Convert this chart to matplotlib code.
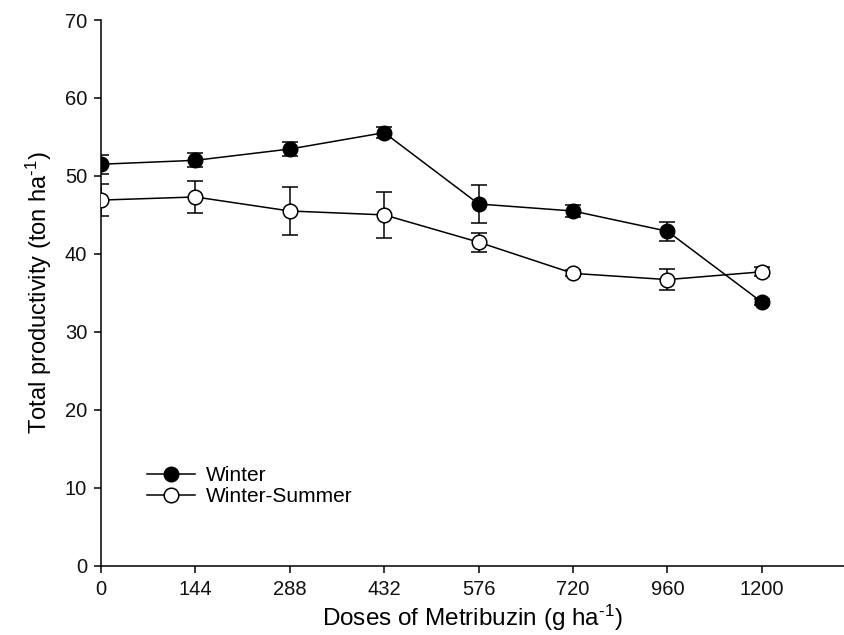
import matplotlib
matplotlib.use("Agg")
import matplotlib.pyplot as plt
import numpy as np
from matplotlib.container import ErrorbarContainer

plt.rcParams['font.family'] = ['Liberation Sans', 'DejaVu Sans']
plt.rcParams['mathtext.fontset'] = 'custom'
plt.rcParams['mathtext.rm'] = 'Liberation Sans'
plt.rcParams['mathtext.it'] = 'Liberation Sans:italic'

doses = ['0', '144', '288', '432', '576', '720', '960', '1200']
winter = [51.5, 52.0, 53.45, 55.55, 46.4, 45.5, 42.9, 33.8]
winter_err = [1.2, 0.9, 0.95, 0.7, 2.45, 0.75, 1.2, 0.4]
ws = [46.9, 47.3, 45.5, 45.0, 41.5, 37.5, 36.7, 37.7]
ws_err = [2.0, 2.0, 3.1, 3.0, 1.2, 0.4, 1.3, 0.6]

W, H = 844, 635
fig = plt.figure(figsize=(W/100, H/100), dpi=100)
ax = fig.add_axes([101/W, (H-565.7)/H, 743/W, (565.7-20)/H])

x = np.arange(len(doses))
ax.errorbar(x, winter, yerr=winter_err, fmt='-o', color='black', mfc='black', mec='black',
            ms=10.5, lw=1.1, elinewidth=1.1, capsize=6, capthick=1.1, label='Winter', zorder=3)
ax.errorbar(x, ws, yerr=ws_err, fmt='-o', color='black', mfc='white', mec='black',
            ms=10.5, mew=1.1, lw=1.1, elinewidth=1.1, capsize=6, capthick=1.1,
            label='Winter-Summer', zorder=3)

ax.set_xlim(0, 7.87)
ax.set_ylim(0, 70)
ax.set_xticks(x)
ax.set_xticklabels(doses)
ax.set_yticks(np.arange(0, 71, 10))
for s in ['top', 'right']:
    ax.spines[s].set_visible(False)
for s in ['left', 'bottom']:
    ax.spines[s].set_linewidth(1.1)
ax.tick_params(direction='out', length=5, width=1.1, labelsize=14.5, pad=5)
for lab in ax.get_xticklabels() + ax.get_yticklabels():
    lab.set_color('#111111')

ax.set_xlabel('Doses of Metribuzin (g ha$^{\\text{-}1}$)', fontsize=17.5, labelpad=3)
ax.set_ylabel('Total productivity (ton ha$^{\\text{-}1}$)', fontsize=17, labelpad=8)

handles, labels = ax.get_legend_handles_labels()
handles = [h[0] if isinstance(h, ErrorbarContainer) else h for h in handles]
ax.legend(handles, labels, loc='upper left', bbox_to_anchor=(147/W, 1-466/H),
          bbox_transform=fig.transFigure, frameon=False, fontsize=15,
          handlelength=2.3, handletextpad=0.55, labelspacing=0.12,
          borderpad=0, borderaxespad=0)

fig.savefig('out.png', dpi=100)
